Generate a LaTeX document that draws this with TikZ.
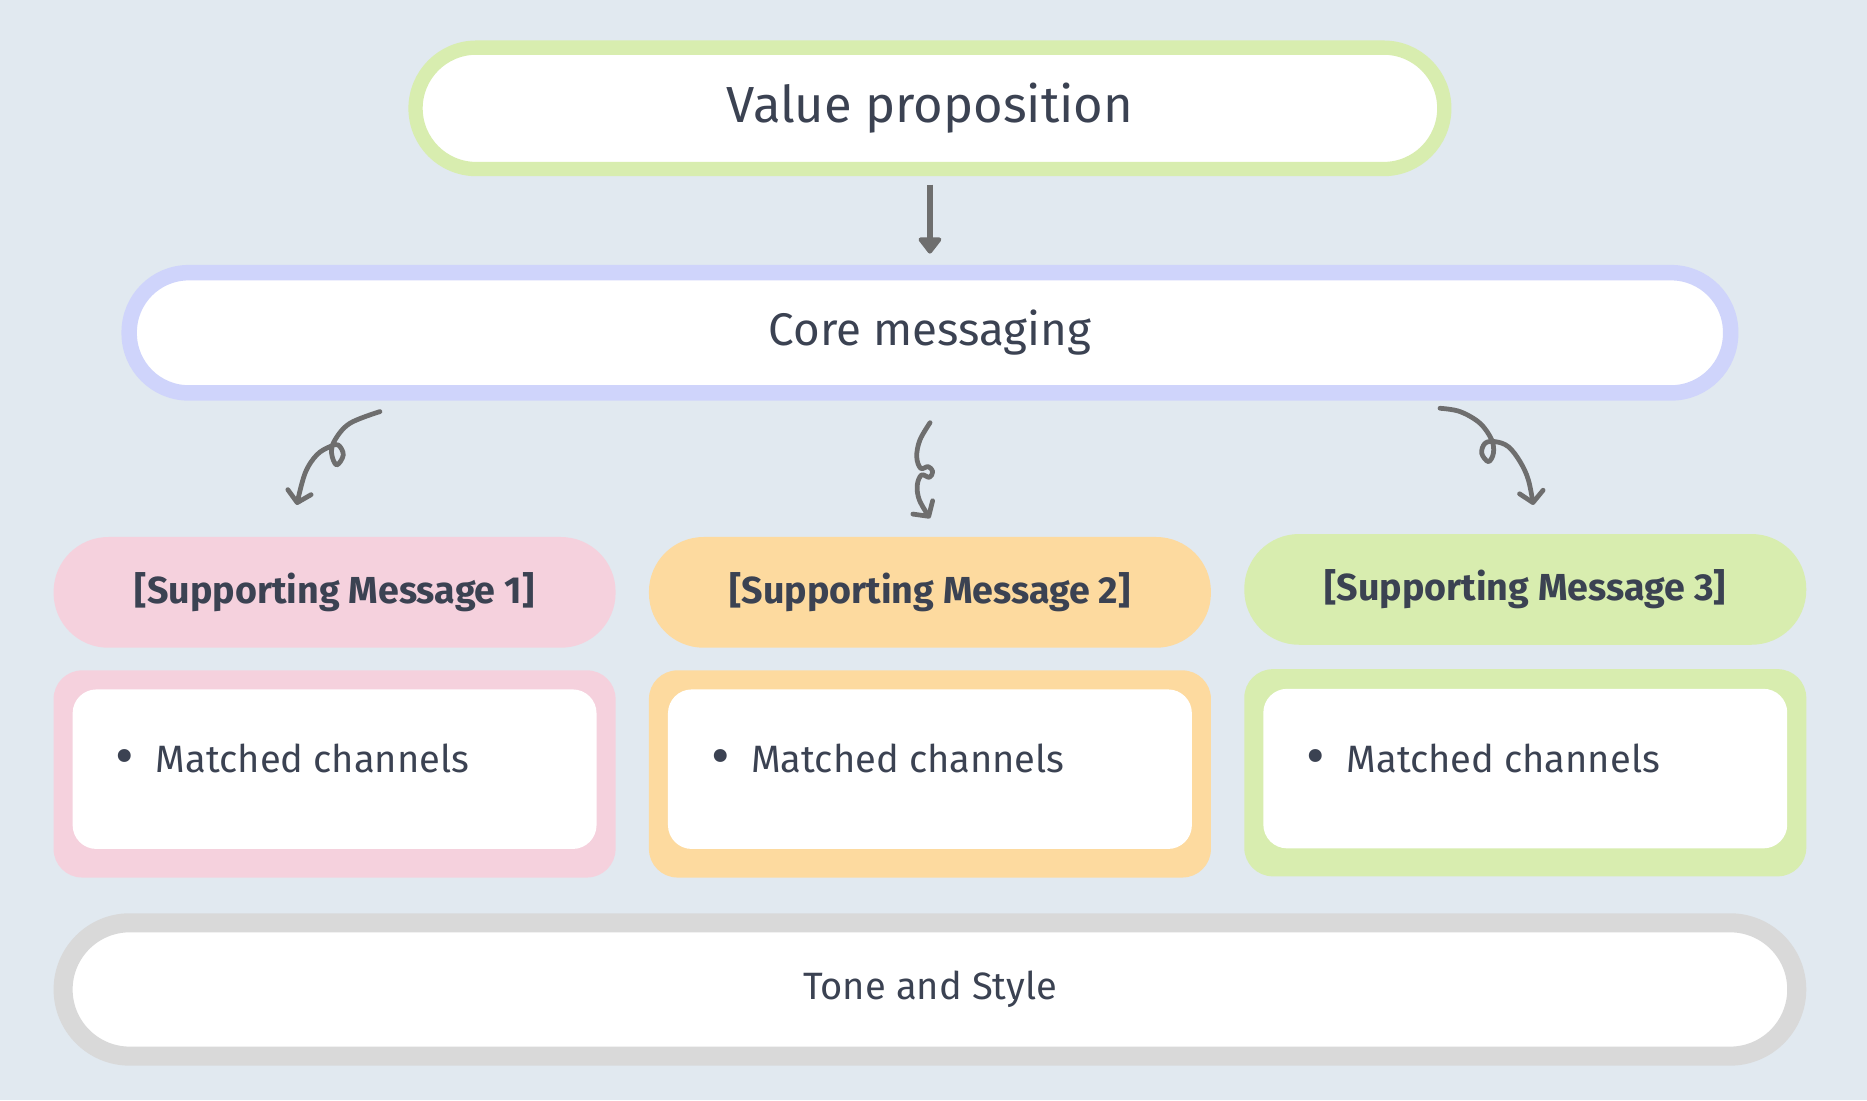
\documentclass[tikz,border=0pt]{standalone}
\usepackage{fontspec}
\setmainfont{Fira Sans}
\usetikzlibrary{arrows.meta}

\definecolor{bgblue}{HTML}{E1E9F0}
\definecolor{vpgreen}{HTML}{D8EDAF}
\definecolor{corelav}{HTML}{CFD4FB}
\definecolor{msgpink}{HTML}{F5D1DD}
\definecolor{msgorange}{HTML}{FDDA9F}
\definecolor{msggreen}{HTML}{D8EDAF}
\definecolor{tonegray}{HTML}{D9D9D9}
\definecolor{inkgray}{HTML}{6E6E6E}
\definecolor{txtdark}{HTML}{3B4252}

\newcommand{\vpfont}{\fontsize{21.3pt}{25pt}\selectfont}
\newcommand{\corefont}{\fontsize{19.2pt}{23pt}\selectfont}
\newcommand{\msgfont}{\fontsize{15.8pt}{19pt}\selectfont\bfseries}
\newcommand{\itemfont}{\fontsize{16pt}{20pt}\selectfont}
\newcommand{\tonefont}{\fontsize{16pt}{19pt}\selectfont}
\newcommand{\bigdot}{\raisebox{-1.2pt}{\fontsize{24pt}{24pt}\selectfont\textbullet}}

\tikzset{
  pill/.style={rectangle, rounded corners=#1, inner sep=0pt, text=txtdark},
  flowarrow/.style={inkgray, line width=2.8pt, -{Triangle[length=7.5pt,width=11pt,round]}},
  curlyarrow/.style={inkgray, line width=2pt, line cap=round, line join=round,
    -{Straight Barb[length=4.5pt,width=10pt,round]}},
  itemtext/.style={anchor=west, inner sep=0pt, text=txtdark, font=\itemfont}
}

\begin{document}
\begin{tikzpicture}[x=0.5pt,y=0.5pt,yscale=-1,xscale=1]
	%background
	\fill[bgblue] (0,0) rectangle (1568,924);
	\useasboundingbox (0,0) rectangle (1568,924);
	
	% Top pill
	\node[pill=25.5pt, draw=vpgreen, line width=6pt, fill=white, minimum width=432pt, minimum height=51pt, font=\vpfont] (vp) at (781,91) {Value proposition};
	% Core pill
	\node[pill=25pt, draw=corelav, line width=6.5pt, fill=white, minimum width=672.5pt, minimum height=50.5pt, font=\corefont] (core) at (781,279.5) {Core messaging};
	
	%Straight Lines
	\draw[flowarrow, shorten <=3.5pt, shorten >=4.75pt] (vp) -- (core);
	
	% Supporting pills
	\node[pill=23pt, fill=msgpink, minimum width=236pt, minimum height=46.5pt, font=\msgfont] (msg1) at (281,497.5) {[Supporting Message 1]};
	\node[pill=23pt, fill=msgorange, minimum width=236pt, minimum height=46.5pt, font=\msgfont] (msg2) at (781,497.5) {[Supporting Message 2]};
	\node[pill=23pt, fill=msggreen, minimum width=236pt, minimum height=46.5pt, font=\msgfont] (msg3) at (1281,495) {[Supporting Message 3]};
	
	%Curly arrows
	\draw[curlyarrow] plot[smooth, tension=0.6] coordinates {(319.1,345.7) (293.9,355.5) (281.3,369.5) (278.5,380.7) (282.7,390.5) (288.3,382.1) (284.1,373.7) (277.1,375.1) (266,382.1) (256.2,397.5) (249.2,424.1)};
	\draw[curlyarrow] plot[smooth, tension=0.6] coordinates {(781.1,355) (772.6,369.5) (769.9,383.5) (773.2,393.3) (779.6,391.9) (783.3,396.1) (780.5,400.9) (774,398.9) (770.4,407.3) (772.1,419.9) (781.1,435.3)};
	\draw[curlyarrow] plot[smooth, tension=0.6] coordinates {(1209.4,342.9) (1226.2,345.7) (1243,355.5) (1252.8,369.5) (1254.2,380.7) (1250,387.7) (1244.4,380.7) (1247.2,372.3) (1255.6,370.9) (1266.7,375.1) (1276.6,387.7) (1283.6,403.1) (1287.7,424.1)};
	
	% Channel boxes
	\node[pill=12pt, fill=msgpink, minimum width=236pt, minimum height=87pt] (chan1) at (281,650) {};
	\node[pill=10pt, fill=white, minimum width=220pt, minimum height=67pt] (chanin1) at (281,646) {};
	\node[pill=12pt, fill=msgorange, minimum width=236pt, minimum height=87pt] (chan2) at (781,650) {};
	\node[pill=10pt, fill=white, minimum width=220pt, minimum height=67pt] (chanin2) at (781,646) {};
	\node[pill=12pt, fill=msggreen, minimum width=236pt, minimum height=87pt] (chan3) at (1281,649) {};
	\node[pill=10pt, fill=white, minimum width=220pt, minimum height=67pt] (chanin3) at (1281,645.5) {};
	
	% Text Node
	\node[itemtext] (item1) at (97,638) {\bigdot\hspace{9pt}Matched channels};
	% Text Node
	\node[itemtext] (item2) at (597,638) {\bigdot\hspace{9pt}Matched channels};
	% Text Node
	\node[itemtext] (item3) at (1097,638) {\bigdot\hspace{9pt}Matched channels};
	
	% Bottom pill
	\node[pill=28pt, draw=tonegray, line width=8pt, fill=white, minimum width=728pt, minimum height=56pt, font=\tonefont] (tone) at (781,831) {Tone and Style};
	
\end{tikzpicture}
\end{document}
